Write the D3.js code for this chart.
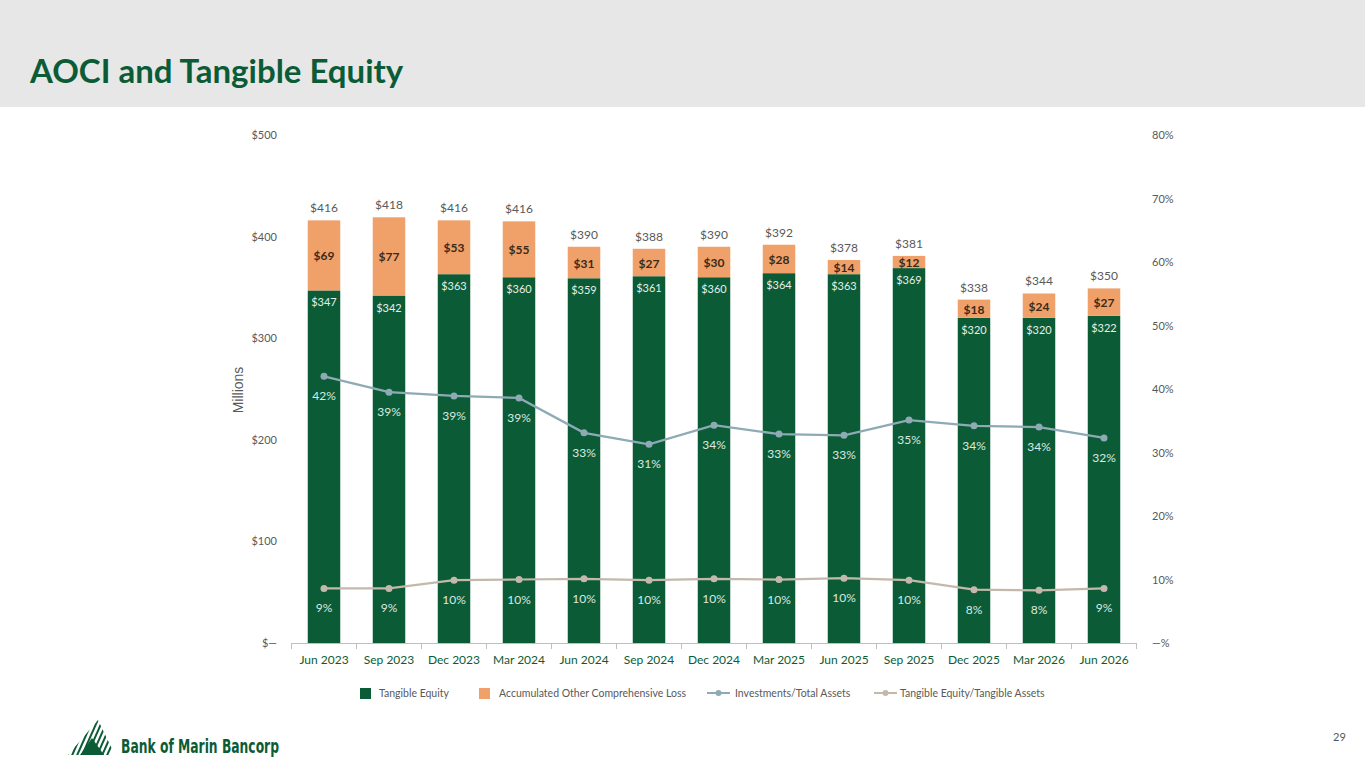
<!DOCTYPE html>
<html><head><meta charset="utf-8">
<script src="https://cdn.jsdelivr.net/npm/d3@7/dist/d3.min.js"></script>
<style>
body{margin:0;background:#fff;font-family:Lato,"Open Sans",sans-serif;}
svg{display:block;}
</style></head>
<body>
<svg id="c" width="1365" height="768"></svg>
<script>
const categories = ["Jun 2023","Sep 2023","Dec 2023","Mar 2024","Jun 2024","Sep 2024","Dec 2024","Mar 2025","Jun 2025","Sep 2025","Dec 2025","Mar 2026","Jun 2026"];
const tangibleEquity = [347,342,363,360,359,361,360,364,363,369,320,320,322];
const aoci = [69,77,53,55,31,27,30,28,14,12,18,24,27];
const totals = [416,418,416,416,390,388,390,392,378,381,338,344,350];
const investmentsPct = [42.0,39.5,38.9,38.6,33.1,31.3,34.3,32.9,32.7,35.1,34.2,34.0,32.3];
const investmentsLbl = ["42%","39%","39%","39%","33%","31%","34%","33%","33%","35%","34%","34%","32%"];
const tePct = [8.6,8.6,9.9,10.0,10.1,9.9,10.1,10.0,10.2,9.9,8.4,8.3,8.6];
const teLbl = ["9%","9%","10%","10%","10%","10%","10%","10%","10%","10%","8%","8%","9%"];
const leftTicks = [0,100,200,300,400,500];
const rightTicks = [0,10,20,30,40,50,60,70,80];

const GREEN="#0b5c36", ORANGE="#f0a169", BLUE="#8eaab5", BEIGE="#c4b8ac", GREY="#595959";
const svg=d3.select("#c");

// header
svg.append("rect").attr("x",0).attr("y",0).attr("width",1365).attr("height",107).attr("fill","#e7e7e7");
svg.append("text").attr("x",30).attr("y",83).attr("fill",GREEN).attr("font-weight","bold")
  .attr("font-size",33).attr("font-family","Lato, 'Open Sans', sans-serif").text("AOCI and Tangible Equity");

const x=d3.scaleBand().domain(categories).range([291.5,1136.5]).paddingInner(0.5).paddingOuter(0.25);
const y=d3.scaleLinear().domain([0,500]).range([643,135]);
const y2=d3.scaleLinear().domain([0,80]).range([643,135]);

// left axis labels
svg.append("g").selectAll("text").data(leftTicks).join("text")
  .attr("x",277).attr("y",d=>y(d)+4).attr("text-anchor","end").attr("font-size",11).attr("fill",GREY)
  .text(d=>d===0?"$—":"$"+d);
svg.append("g").selectAll("text").data(rightTicks).join("text")
  .attr("x",1152).attr("y",d=>y2(d)+4).attr("text-anchor","start").attr("font-size",11).attr("fill",GREY)
  .text(d=>d===0?"—%":d+"%");

svg.append("text").attr("transform","translate(243,390) rotate(-90)").attr("text-anchor","middle")
  .attr("font-size",14).attr("font-family","Liberation Sans, Arial, sans-serif").attr("fill",GREY).text("Millions");

// bars
const g=svg.append("g");
g.selectAll("rect.te").data(categories).join("rect").attr("class","te")
  .attr("x",d=>x(d)).attr("width",x.bandwidth())
  .attr("y",(d,i)=>y(tangibleEquity[i])).attr("height",(d,i)=>y(0)-y(tangibleEquity[i])).attr("fill",GREEN);
g.selectAll("rect.ao").data(categories).join("rect").attr("class","ao")
  .attr("x",d=>x(d)).attr("width",x.bandwidth())
  .attr("y",(d,i)=>y(tangibleEquity[i]+aoci[i])).attr("height",(d,i)=>y(tangibleEquity[i])-y(tangibleEquity[i]+aoci[i])).attr("fill",ORANGE);

// bottom axis
const ax=d3.axisBottom(x).tickSize(0).tickPadding(12);
const axg=svg.append("g").attr("transform","translate(0,643)").call(ax);
axg.select(".domain").attr("stroke","#bfbfbf");
axg.selectAll("text").attr("font-size",12).attr("fill",GREEN).attr("font-family","Lato, sans-serif");
const step=x.step();
const bounds=d3.range(categories.length+1).map(i=>291.5+i*step);
svg.append("g").selectAll("line").data(bounds).join("line")
  .attr("x1",d=>d).attr("x2",d=>d).attr("y1",643).attr("y2",649).attr("stroke","#bfbfbf");

const cx=d=>x(d)+x.bandwidth()/2;

// labels
g.selectAll("text.tot").data(categories).join("text").attr("class","tot")
  .attr("x",cx).attr("y",(d,i)=>y(tangibleEquity[i]+aoci[i])-8).attr("text-anchor","middle")
  .attr("font-size",12).attr("fill",GREY).text((d,i)=>"$"+totals[i]);
g.selectAll("text.ao").data(categories).join("text").attr("class","ao")
  .attr("x",cx).attr("y",(d,i)=>(y(tangibleEquity[i])+y(tangibleEquity[i]+aoci[i]))/2+5).attr("text-anchor","middle")
  .attr("font-size",12).attr("font-weight","bold").attr("fill","#3a2a1a").text((d,i)=>"$"+aoci[i]);
g.selectAll("text.tel").data(categories).join("text").attr("class","tel")
  .attr("x",cx).attr("y",(d,i)=>y(tangibleEquity[i])+16).attr("text-anchor","middle")
  .attr("font-size",11).attr("fill","#e6efe9").text((d,i)=>"$"+tangibleEquity[i]);

// lines
function drawLine(vals,color,lbls){
  const line=d3.line().x((d,i)=>cx(categories[i])).y(d=>y2(d));
  svg.append("path").datum(vals).attr("d",line).attr("fill","none").attr("stroke",color).attr("stroke-width",2.25);
  svg.append("g").selectAll("circle").data(vals).join("circle")
    .attr("cx",(d,i)=>cx(categories[i])).attr("cy",d=>y2(d)).attr("r",3.5).attr("fill",color);
  svg.append("g").selectAll("text").data(vals).join("text")
    .attr("x",(d,i)=>cx(categories[i])).attr("y",d=>y2(d)+24).attr("text-anchor","middle")
    .attr("font-size",12).attr("fill","#dbe8e0").text((d,i)=>lbls[i]);
}
drawLine(investmentsPct,BLUE,investmentsLbl);
drawLine(tePct,BEIGE,teLbl);

// legend
const lg=svg.append("g").attr("font-size",10.5).attr("fill",GREY);
lg.append("rect").attr("x",360).attr("y",688).attr("width",11).attr("height",11).attr("fill",GREEN);
lg.append("text").attr("x",379).attr("y",697).text("Tangible Equity");
lg.append("rect").attr("x",479).attr("y",688).attr("width",11).attr("height",11).attr("fill",ORANGE);
lg.append("text").attr("x",499).attr("y",697).text("Accumulated Other Comprehensive Loss");
lg.append("line").attr("x1",707).attr("x2",730).attr("y1",693).attr("y2",693).attr("stroke",BLUE).attr("stroke-width",2);
lg.append("circle").attr("cx",718.5).attr("cy",693).attr("r",3).attr("fill",BLUE);
lg.append("text").attr("x",735).attr("y",697).text("Investments/Total Assets");
lg.append("line").attr("x1",874).attr("x2",897).attr("y1",693).attr("y2",693).attr("stroke",BEIGE).attr("stroke-width",2);
lg.append("circle").attr("cx",885.5).attr("cy",693).attr("r",3).attr("fill",BEIGE);
lg.append("text").attr("x",900).attr("y",697).text("Tangible Equity/Tangible Assets");

// page number
svg.append("text").attr("x",1333).attr("y",741).attr("font-size",11).attr("fill",GREY).text("29");

// logo
const logo=svg.append("g").attr("fill",GREEN);
svg.append("clipPath").attr("id","tri").append("polygon").attr("points","68,755 98,720 115,755");
const stripes=logo.append("g").attr("clip-path","url(#tri)");
d3.range(10).forEach(i=>{
  stripes.append("line").attr("x1",60+i*5).attr("y1",760).attr("x2",80+i*5).attr("y2",715)
    .attr("stroke",GREEN).attr("stroke-width",2);
});
logo.append("polygon").attr("points","80,755 92,738 104,755");
logo.append("text").attr("x",121).attr("y",753).attr("font-size",19).attr("font-weight","bold")
  .attr("font-family","'DejaVu Sans Condensed', 'Liberation Sans Narrow', sans-serif")
  .attr("textLength",158).attr("lengthAdjust","spacingAndGlyphs").text("Bank of Marin Bancorp");
</script>
</body></html>
